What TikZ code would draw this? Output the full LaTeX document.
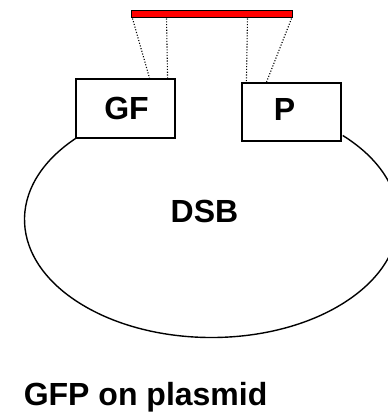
\documentclass[tikz,border=0pt]{standalone}
\usepackage{fontspec}
\setmainfont{Liberation Sans}
\begin{document}
\begin{tikzpicture}[x=1pt,y=1pt,
  box/.style={draw=black, line width=1.2pt, fill=white, minimum width=99pt, minimum height=59pt, inner sep=0pt},
  lbl/.style={inner sep=0pt, anchor=base, font=\fontsize{32}{38}\selectfont\bfseries},
  dots/.style={draw=black, line width=1.1pt, dash pattern=on 1.1pt off 1.7pt},
  barstyle/.style={draw=black, line width=1pt, fill=red, minimum width=161pt, minimum height=7pt, inner sep=0pt}]
\useasboundingbox (0,0) rectangle (388,413);
% plasmid arc
\node[box] (gf) at (125.5,304.5) {};
\node[box, minimum height=58pt] (p) at (291.5,301) {};
\draw[line width=1.4pt] (gf.south west) arc[start angle=136.7, end angle=405.4, x radius=187, y radius=118];
% labels
\node[lbl] (gft) at (126.5,293) {GF};
\node[lbl] (pt) at (284.5,292) {P};
\node[lbl] (dsb) at (204.5,190) {DSB};
\node[lbl, anchor=base west] (cap) at (23.6,7) {GFP on plasmid};
% red bar
\node[barstyle] (bar) at (211.5,398.5) {};
\draw[dots] ([xshift=2pt]bar.south west) -- ([xshift=-26pt]gf.north east);
\draw[dots] ([xshift=36pt]bar.south west) -- ([xshift=-8pt]gf.north east);
\draw[dots] ([xshift=-45pt]bar.south east) -- ([xshift=5pt]p.north west);
\draw[dots] ([xshift=-1pt]bar.south east) -- ([xshift=25pt]p.north west);
\end{tikzpicture}
\end{document}
